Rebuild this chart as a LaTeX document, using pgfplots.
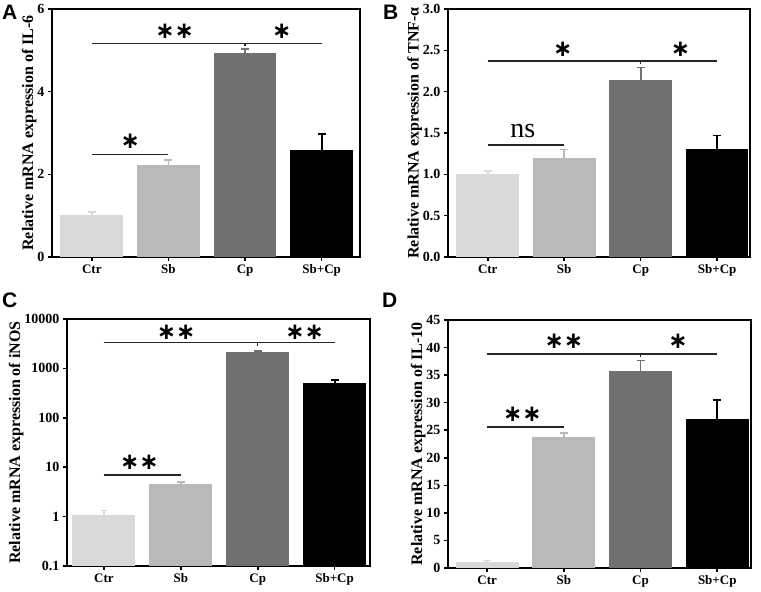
\documentclass[border=0pt]{standalone}
\usepackage{fontspec}
\setmainfont{Liberation Serif}
\newfontfamily\panelfont{Liberation Sans}
\newfontfamily\starfont{DejaVu Sans}
\usepackage{pgfplots}
\pgfplotsset{compat=1.18}

\definecolor{cctr}{RGB}{217,217,217}
\definecolor{csb}{RGB}{185,185,185}
\definecolor{ccp}{RGB}{113,113,113}
\definecolor{cboth}{RGB}{0,0,0}

\pgfplotsset{
  panel/.style={
    scale only axis, ybar, bar width=0.82, bar shift=0pt,
    axis line style={line width=1.6pt},
    xtick={0,1,2,3}, xticklabels={Ctr,Sb,Cp,Sb+Cp},
    xtick pos=bottom, ytick pos=left, tick align=outside,
    major tick length=4pt, tick style={line width=1.6pt, black},
    x tick label style={font=\bfseries\fontsize{13}{13}\selectfont},
    y tick label style={font=\bfseries\fontsize{14}{14}\selectfont},
    ylabel style={font=\bfseries\fontsize{16}{16}\selectfont},
    ylabel shift=-6pt,
    /pgf/number format/assume math mode=true,
    clip=false,
    error bars/y dir=plus, error bars/y explicit,
  },
  grp/.style={fill=#1, draw=none,
    error bars/error bar style={draw=#1, line width=1.8pt},
    error bars/error mark options={draw=#1, line width=1.6pt, mark size=4pt, rotate=90}},
}
\tikzset{
  sig/.style={line width=1.5pt, black!85},
  star/.style={font=\starfont\bfseries\fontsize{23}{23}\selectfont, inner sep=0pt},
}

\begin{document}
\begin{tikzpicture}
\path[use as bounding box] (0pt,0pt) rectangle (761pt,592pt);

% A: IL-6
\begin{axis}[panel, at={(52pt,335pt)}, anchor=south west, width=308pt, height=248pt,
  xmin=-0.52, xmax=3.5, ymin=0, ymax=6, ytick={0,2,4,6},
  ylabel={Relative mRNA expression of IL-6}]
\addplot[grp=cctr] coordinates {(0,1.01) +- (0,0.08)};
\addplot[grp=csb] coordinates {(1,2.23) +- (0,0.12)};
\addplot[grp=ccp] coordinates {(2,4.93) +- (0,0.10)};
\addplot[grp=cboth] coordinates {(3,2.59) +- (0,0.38)};
\draw[sig] (axis cs:0,5.17) -- (axis cs:3,5.17);
\draw[sig] (axis cs:2,5.17) -- ++(0pt,-3pt);
\draw[sig] (axis cs:0,2.48) -- (axis cs:1,2.48);
\node[star] at (axis cs:1.08,5.45) {∗∗};
\node[star] at (axis cs:2.48,5.45) {∗};
\node[star] at (axis cs:0.5,2.79) {∗};
\end{axis}

% B: TNF-alpha
\begin{axis}[panel, at={(448pt,335pt)}, anchor=south west, width=302pt, height=248pt,
  xmin=-0.52, xmax=3.43, ymin=0, ymax=3, ytick={0,0.5,...,3},
  yticklabel style={/pgf/number format/.cd, fixed, fixed zerofill, precision=1},
  ylabel={Relative mRNA expression of TNF-α}]
\addplot[grp=cctr] coordinates {(0,1.007) +- (0,0.035)};
\addplot[grp=csb] coordinates {(1,1.20) +- (0,0.10)};
\addplot[grp=ccp] coordinates {(2,2.14) +- (0,0.15)};
\addplot[grp=cboth] coordinates {(3,1.31) +- (0,0.16)};
\draw[sig] (axis cs:0,2.37) -- (axis cs:3,2.37);
\draw[sig] (axis cs:2,2.37) -- ++(0pt,-3pt);
\draw[sig] (axis cs:0,1.355) -- (axis cs:1,1.355);
\node[star] at (axis cs:0.98,2.51) {∗};
\node[star] at (axis cs:2.52,2.51) {∗};
\node[inner sep=0pt, font=\fontsize{28}{28}\selectfont] at (axis cs:0.46,1.52) {ns};
\end{axis}

% C: iNOS
\begin{axis}[panel, at={(67pt,26pt)}, anchor=south west, width=303pt, height=247pt,
  ymode=log, log origin=infty, yminorticks=false,
  xmin=-0.48, xmax=3.46, ymin=0.1, ymax=10000,
  ytick={0.1,1,10,100,1000,10000}, yticklabels={0.1,1,10,100,1000,10000},
  ylabel={Relative mRNA expression of iNOS}]
\addplot[grp=cctr] coordinates {(0,1.06) +- (0,0.28)};
\addplot[grp=csb] coordinates {(1,4.62) +- (0,0.36)};
\addplot[grp=ccp] coordinates {(2,2100) +- (0,130)};
\addplot[grp=cboth] coordinates {(3,507) +- (0,75)};
\draw[sig] (axis cs:0,3340) -- (axis cs:3,3340);
\draw[sig] (axis cs:2,3340) -- ++(0pt,-3pt);
\draw[sig] (axis cs:0,6.9) -- (axis cs:1,6.9);
\node[star] at (axis cs:0.94,5470) {∗∗};
\node[star] at (axis cs:2.61,5470) {∗∗};
\node[star] at (axis cs:0.46,12.8) {∗∗};
\end{axis}

% D: IL-10
\begin{axis}[panel, at={(448pt,24pt)}, anchor=south west, width=303pt, height=248pt,
  xmin=-0.51, xmax=3.44, ymin=0, ymax=45, ytick={0,5,...,45},
  ylabel={Relative mRNA expression of IL-10}]
\addplot[grp=cctr] coordinates {(0,1.09) +- (0,0.3)};
\addplot[grp=csb] coordinates {(1,23.86) +- (0,0.65)};
\addplot[grp=ccp] coordinates {(2,35.67) +- (0,2.0)};
\addplot[grp=cboth] coordinates {(3,27.0) +- (0,3.47)};
\draw[sig] (axis cs:0,38.8) -- (axis cs:3,38.8);
\draw[sig] (axis cs:2,38.8) -- ++(0pt,-3pt);
\draw[sig] (axis cs:0,25.6) -- (axis cs:1,25.6);
\node[star] at (axis cs:1.0,41.1) {∗∗};
\node[star] at (axis cs:2.49,41.1) {∗};
\node[star] at (axis cs:0.46,27.9) {∗∗};
\end{axis}

\begin{scope}[every node/.style={anchor=north west, inner sep=0pt, font=\panelfont\bfseries\fontsize{21}{21}\selectfont}]
\node at (2pt,587pt) {A};
\node at (383pt,587pt) {B};
\node at (2pt,299pt) {C};
\node at (382pt,299pt) {D};
\end{scope}
\end{tikzpicture}
\end{document}
